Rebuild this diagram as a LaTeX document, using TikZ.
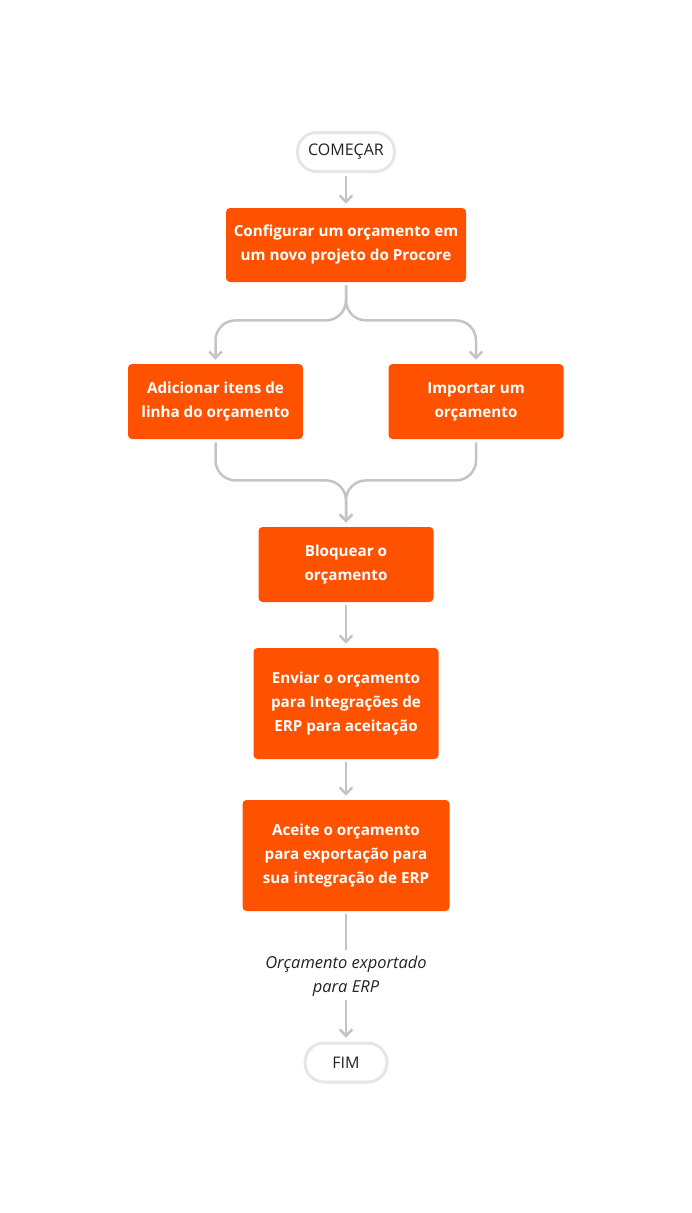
\documentclass[tikz,border=0pt]{standalone}
\usepackage{fontspec}
\setmainfont{Open Sans}
\usetikzlibrary{arrows.meta,positioning}

\definecolor{procore}{HTML}{FF5200}
\definecolor{linegray}{HTML}{C4C4C4}
\definecolor{pillgray}{HTML}{E6E6E6}
\definecolor{textdark}{HTML}{222222}

\begin{document}
\begin{tikzpicture}[shorten >=4pt, shorten <=3pt, on grid, thick,
	step node/.style={rectangle, rounded corners=4pt, fill=procore, text=white, align=center, inner sep=0pt, font=\fontsize{15.2}{24}\selectfont\bfseries},
	end node/.style={rectangle, rounded corners=19pt, draw=pillgray, line width=3pt, fill=white, text=textdark, minimum width=97pt, minimum height=39pt, inner sep=0pt, font=\fontsize{16}{24}\selectfont},
	note node/.style={align=center, inner sep=0pt, text=textdark, font=\fontsize{16.5}{24}\selectfont\itshape},
	flow/.style={draw=linegray, line width=2.5pt, -{Straight Barb[angle=90:9pt]}}]
	\useasboundingbox (0,0) rectangle (692pt,-1213pt);
	\node[end node] (start) at (346pt,-152pt) {COMEÇAR};
	\node[step node, minimum width=240pt, minimum height=74pt] (config) [below=93pt of start] {Configurar um orçamento em\\um novo projeto do Procore};
	\node[step node, minimum width=175pt, minimum height=75pt] (itens) [below left=156.5pt and 130.5pt of config] {Adicionar itens de\\linha do orçamento};
	\node[step node, minimum width=175pt, minimum height=75pt] (importar) [below right=156.5pt and 130pt of config] {Importar um\\orçamento};
	\node[step node, minimum width=175pt, minimum height=75pt] (bloquear) [below=319.5pt of config] {Bloquear o\\orçamento};
	\node[step node, minimum width=185pt, minimum height=111pt] (enviar) [below=139pt of bloquear] {Enviar o orçamento\\para Integrações de\\ERP para aceitação};
	\node[step node, minimum width=207pt, minimum height=111pt] (aceite) [below=152pt of enviar] {Aceite o orçamento\\para exportação para\\sua integração de ERP};
	\node[note node] (exportado) [below=121pt of aceite] {Orçamento exportado\\para ERP};
	\node[end node, minimum width=82pt] (fim) [below=86pt of exportado] {FIM};

	\draw[flow] (start) -- (config);
	\draw[flow, rounded corners=20pt] (config.south) -- ++(0,-38pt) -| (itens.north);
	\draw[flow, rounded corners=20pt] (config.south) -- ++(0,-38pt) -| (importar.north);
	\draw[flow, rounded corners=20pt] (itens.south) -- ++(0,-41pt) -| (bloquear.north);
	\draw[flow, rounded corners=20pt] (importar.south) -- ++(0,-41pt) -| (bloquear.north);
	\draw[flow] (bloquear) -- (enviar);
	\draw[flow] (enviar) -- (aceite);
	\draw[draw=linegray, line width=2.5pt, shorten >=6pt] (aceite) -- (exportado);
	\draw[flow] (exportado) -- (fim);
\end{tikzpicture}
\end{document}
